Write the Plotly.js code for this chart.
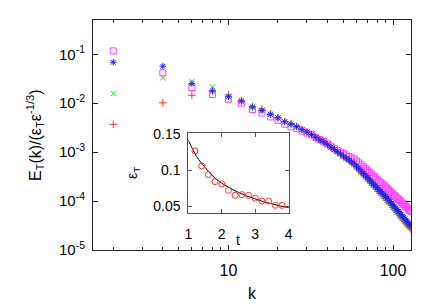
<!DOCTYPE html>
<html>
<head>
<meta charset="utf-8">
<script src="https://cdn.plot.ly/plotly-3.0.1.min.js"></script>
<style>html,body{margin:0;padding:0;background:#fff;}#plot{width:436px;height:305px;}</style>
</head>
<body>
<div id="plot"></div>
<script>
// wavenumbers k = 2..128 (step 2)
const k = [2,4,6,8,10,12,14,16,18,20,22,24,26,28,30,32,34,36,38,40,42,44,46,48,50,52,54,56,58,60,62,64,66,68,70,72,74,76,78,80,82,84,86,88,90,92,94,96,98,100,102,104,106,108,110,112,114,116,118,120,122,124,126,128];

// series: red (+)
const seriesRed = [0.0037,0.0102,0.0145,0.0178,0.0148,0.0112,0.0086,0.0076,0.0060,0.0051,0.0042,0.0038,0.00335,0.0029,0.00258,0.0023,0.00199,0.00177,0.0016,0.00141,0.00125,0.00112,0.0010,9.05e-4,8.15e-4,7.40e-4,6.72e-4,6.12e-4,5.57e-4,4.92e-4,4.37e-4,3.89e-4,3.47e-4,3.11e-4,2.81e-4,2.54e-4,2.30e-4,2.08e-4,1.90e-4,1.73e-4,1.57e-4,1.44e-4,1.33e-4,1.22e-4,1.12e-4,1.03e-4,9.55e-5,8.75e-5,8.05e-5,7.40e-5,6.80e-5,6.32e-5,5.87e-5,5.44e-5,5.05e-5,4.69e-5,4.36e-5,4.07e-5,3.79e-5,3.55e-5,3.31e-5,3.10e-5,2.90e-5,2.72e-5];
// series: green (x)
const seriesGreen = [0.0158,0.0331,0.0272,0.0215,0.0138,0.0112,0.00851,0.00724,0.00595,0.00501,0.0042,0.00372,0.00331,0.00288,0.00257,0.00229,0.0020,0.00178,0.00161,0.00142,0.00126,0.00113,0.00101,9.12e-4,8.22e-4,7.46e-4,6.79e-4,6.19e-4,5.63e-4,4.97e-4,4.42e-4,3.94e-4,3.51e-4,3.15e-4,2.85e-4,2.58e-4,2.33e-4,2.11e-4,1.93e-4,1.76e-4,1.60e-4,1.47e-4,1.36e-4,1.25e-4,1.15e-4,1.06e-4,9.80e-5,8.98e-5,8.27e-5,7.60e-5,7.00e-5,6.50e-5,6.04e-5,5.60e-5,5.20e-5,4.83e-5,4.49e-5,4.20e-5,3.91e-5,3.66e-5,3.42e-5,3.21e-5,3.01e-5,2.82e-5];
// series: blue (*)
const seriesBlue = [0.0687,0.0569,0.0251,0.0178,0.0135,0.0110,0.00832,0.00708,0.00589,0.00501,0.00417,0.00372,0.00331,0.00288,0.00257,0.00229,0.0020,0.00178,0.00162,0.00143,0.00127,0.00114,0.00102,9.23e-4,8.34e-4,7.59e-4,6.93e-4,6.34e-4,5.79e-4,5.13e-4,4.58e-4,4.09e-4,3.66e-4,3.30e-4,2.99e-4,2.72e-4,2.47e-4,2.24e-4,2.05e-4,1.87e-4,1.71e-4,1.58e-4,1.46e-4,1.35e-4,1.24e-4,1.15e-4,1.06e-4,9.75e-5,8.99e-5,8.28e-5,7.64e-5,7.10e-5,6.61e-5,6.14e-5,5.71e-5,5.31e-5,4.94e-5,4.63e-5,4.32e-5,4.05e-5,3.79e-5,3.56e-5,3.34e-5,3.14e-5];
// series: magenta (open square)
const seriesMagenta = [0.117,0.0417,0.0209,0.0151,0.0120,0.0100,0.00741,0.00631,0.00525,0.00447,0.00372,0.00331,0.00302,0.00269,0.00245,0.00226,0.0020,0.0018,0.00166,0.00148,0.00133,0.0012,0.00109,0.0010,9.33e-4,8.71e-4,8.13e-4,7.59e-4,7.24e-4,6.61e-4,6.03e-4,5.50e-4,5.01e-4,4.57e-4,4.17e-4,3.85e-4,3.55e-4,3.24e-4,3.02e-4,2.79e-4,2.57e-4,2.40e-4,2.24e-4,2.09e-4,1.95e-4,1.82e-4,1.70e-4,1.58e-4,1.48e-4,1.38e-4,1.29e-4,1.22e-4,1.15e-4,1.08e-4,1.02e-4,9.55e-5,9.02e-5,8.51e-5,8.04e-5,7.59e-5,7.24e-5,6.84e-5,6.46e-5,6.17e-5];

// inset: dissipation rate vs time
const tPoints = [1.2,1.4,1.6,1.8,2.0,2.2,2.4,2.6,2.8,3.0,3.2,3.4,3.6,3.8];
const epsPoints = [0.127,0.106,0.094,0.084,0.081,0.072,0.065,0.066,0.065,0.061,0.057,0.057,0.051,0.051];
const tCurve = [1.0,1.25,1.5,1.75,2.0,2.25,2.5,2.75,3.0,3.25,3.5,3.75,4.0];
const epsCurve = [0.142,0.119,0.104,0.091,0.082,0.075,0.069,0.064,0.060,0.056,0.053,0.050,0.048];

// tick labels
const xTickVals = [10,100];
const xTickText = ['10','100'];
const xMinorVals = [2,3,4,5,6,7,8,9,20,30,40,50,60,70,80,90];
const yTickVals = [1e-5,1e-4,1e-3,1e-2,1e-1];
const yTickText = ['10<sup>-5</sup>','10<sup>-4</sup>','10<sup>-3</sup>','10<sup>-2</sup>','10<sup>-1</sup>'];
const insetXTicks = [1,2,3,4];
const insetYTicks = [0.05,0.1,0.15];
const insetYText = ['0.05','0.1','0.15'];

const FONT = 'Liberation Sans, Arial, Helvetica, sans-serif';

function mk(y, sym, col, sz){
  return {x:k, y:y, type:'scatter', mode:'markers', xaxis:'x', yaxis:'y',
    marker:{symbol:sym, size:sz, color:col, line:{color:col, width:1}}, hoverinfo:'skip'};
}

const data = [
  mk(seriesMagenta,'square-open','#ff40ff',6),
  mk(seriesRed,'cross-thin-open','#ff3030',5.5),
  mk(seriesGreen,'x-thin-open','#20e020',5.5),
  mk(seriesBlue,'asterisk-open','#2020ff',5.5),
  {x:tCurve, y:epsCurve, type:'scatter', mode:'lines', line:{color:'#000', width:1, shape:'spline'}, xaxis:'x2', yaxis:'y2'},
  {x:tPoints, y:epsPoints, type:'scatter', mode:'markers', marker:{symbol:'circle-open', size:6, color:'#ff3030', line:{width:1}}, xaxis:'x2', yaxis:'y2'}
];

const layout = {
  width:436, height:305,
  margin:{l:93, r:25, t:20, b:55},
  paper_bgcolor:'#fff', plot_bgcolor:'#fff',
  showlegend:false,
  font:{family:FONT, color:'#000'},
  xaxis:{type:'log', range:[0.178,2.109], showgrid:false, zeroline:false,
    showline:true, linecolor:'#222', linewidth:1, mirror:'ticks',
    ticks:'inside', ticklen:5, tickcolor:'#222', tickmode:'array', tickvals:xTickVals, ticktext:xTickText,
    minor:{ticks:'inside', ticklen:3, tickcolor:'#222', tickmode:'array', tickvals:xMinorVals, showgrid:false},
    tickfont:{size:16, family:FONT}, ticklabelstandoff:6},
  yaxis:{type:'log', range:[-5,-0.30], showgrid:false, zeroline:false,
    showline:true, linecolor:'#222', linewidth:1, mirror:'ticks',
    ticks:'inside', ticklen:5, tickcolor:'#222', tickmode:'array', tickvals:yTickVals, ticktext:yTickText,
    tickfont:{size:15, family:FONT}, ticklabelstandoff:4},
  xaxis2:{domain:[0.2997,0.6154], anchor:'y2', range:[1,4], showgrid:false, zeroline:false,
    showline:true, linecolor:'#555', linewidth:1, mirror:'ticks',
    ticks:'inside', ticklen:4, tickcolor:'#555', tickmode:'array', tickvals:insetXTicks,
    tickfont:{size:14, family:FONT}, ticklabelstandoff:8},
  yaxis2:{domain:[0.162,0.507], anchor:'x2', range:[0.0407,0.1514], showgrid:false, zeroline:false,
    showline:true, linecolor:'#555', linewidth:1, mirror:'ticks',
    ticks:'inside', ticklen:4, tickcolor:'#555', tickmode:'array', tickvals:insetYTicks, ticktext:insetYText,
    tickfont:{size:14, family:FONT}, ticklabelstandoff:4},
  annotations:[
    {text:'E<sub>T</sub>(k)/(ε<sub>T</sub>ε<sup>-1/3</sup>)', xref:'paper', yref:'paper', x:-0.182, y:0.5,
     xanchor:'center', yanchor:'middle', textangle:-90, showarrow:false, font:{size:16, family:FONT}},
    {text:'k', xref:'paper', yref:'paper', x:0.5, y:-0.187, xanchor:'center', yanchor:'middle', showarrow:false, font:{size:16, family:FONT}},
    {text:'t', xref:'paper', yref:'paper', x:0.456, y:0.0435, xanchor:'center', yanchor:'middle', showarrow:false, font:{size:14, family:FONT}},
    {text:'ε<sub>T</sub>', xref:'paper', yref:'paper', x:0.126, y:0.335, xanchor:'center', yanchor:'middle', textangle:-90, showarrow:false, font:{size:14, family:FONT}}
  ]
};

Plotly.newPlot('plot', data, layout, {displayModeBar:false, staticPlot:true});
</script>
</body>
</html>
